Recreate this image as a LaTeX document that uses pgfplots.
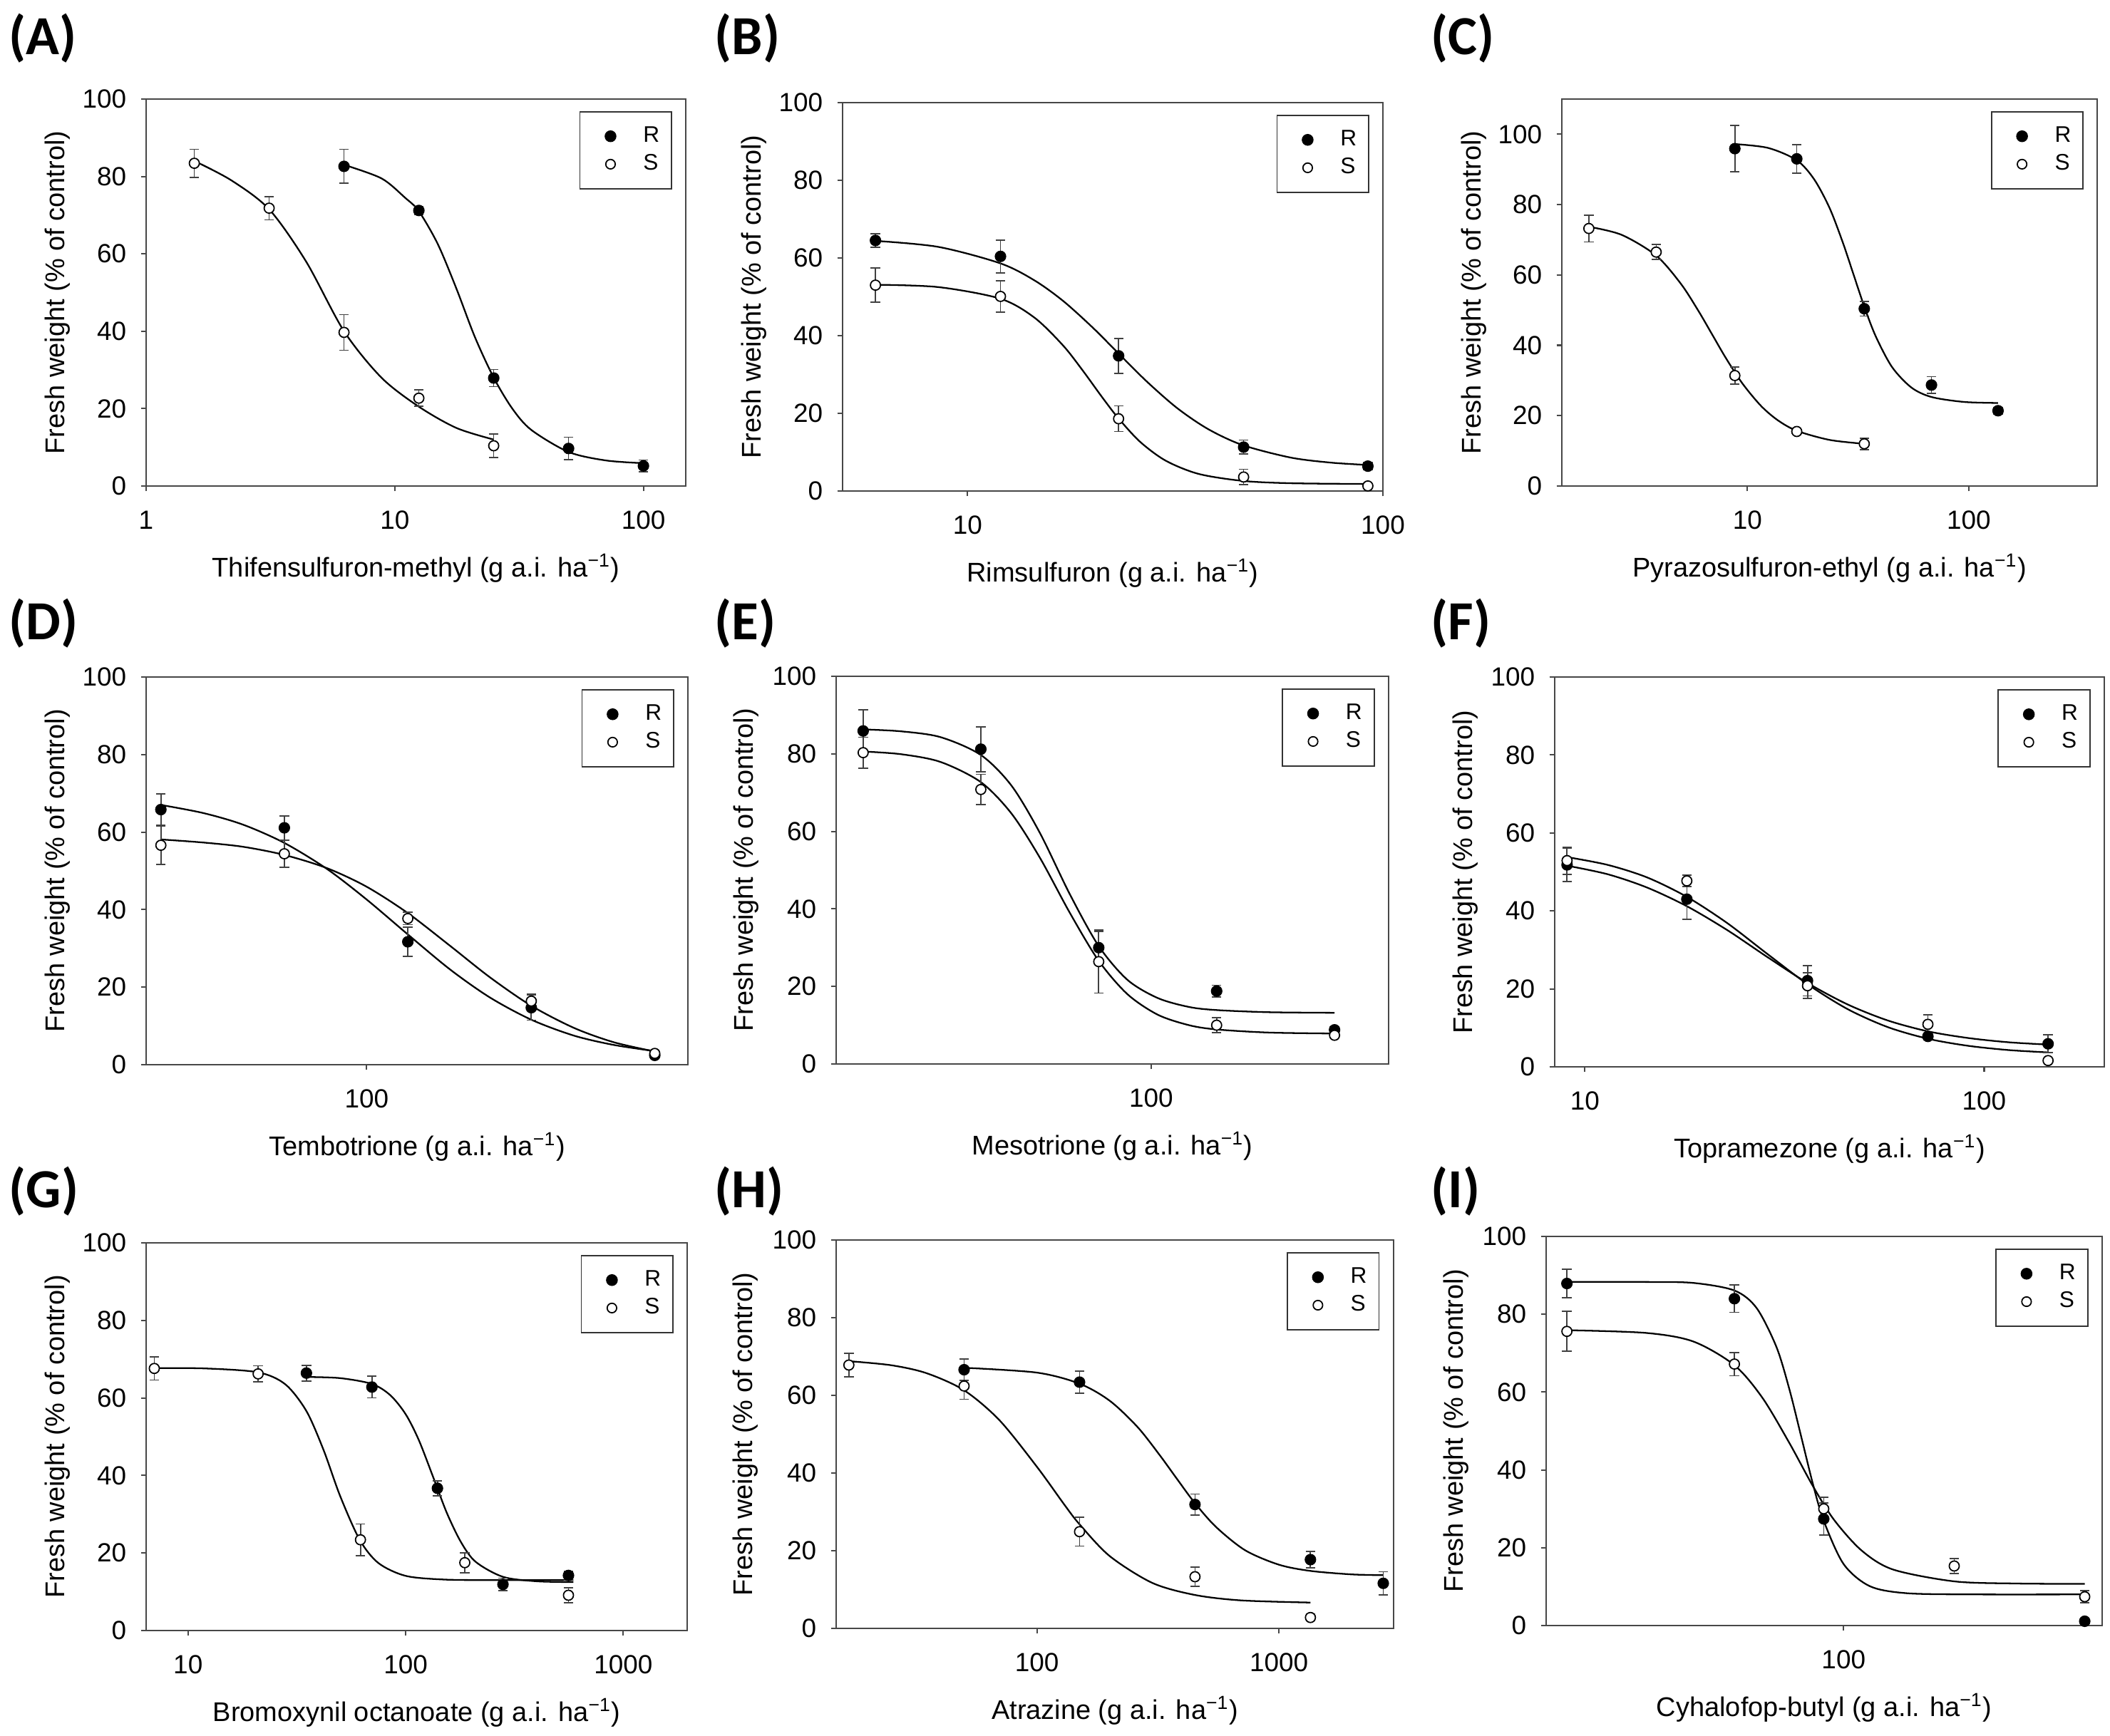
\documentclass[border=0pt]{standalone}
\usepackage{fontspec}
\setmainfont{Liberation Sans}
\newfontfamily\carlito{Carlito}
\usepackage{pgfplots}
\pgfplotsset{compat=1.18}

\pgfplotsset{
  every axis/.append style={
    anchor=south west, scale only axis, xmode=log,
    ymin=0, ytick={0,20,40,60,80,100},
    xminorticks=false, tick align=outside, tick pos=left,
    major tick length=0.075cm,
    axis line style={black!72, line width=0.6pt},
    tick style={black!72, line width=0.6pt},
    tick label style={font=\fontsize{10.5}{12}\selectfont},
    xticklabel style={yshift=-0.15cm},
    yticklabel style={xshift=-0.08cm},
    label style={font=\fontsize{10.8}{13}\selectfont},
    xlabel style={at={(axis description cs:0.5,0)}, anchor=north, yshift=-0.83cm},
    ylabel style={at={(axis description cs:-0.124,0.5)}, anchor=south},
    ylabel={Fresh weight (\% of control)},
    legend style={at={(rel axis cs:0.975,0.969)}, anchor=north east,
      draw=black!80, line width=0.5pt, inner xsep=0.12cm, inner ysep=0.15cm,
      nodes={inner ysep=0.06cm, inner xsep=0.05cm}, font=\fontsize{9}{10}\selectfont,
      /tikz/every odd column/.append style={column sep=0.1cm}},
    legend cell align=left,
  },
  /pgf/number format/assume math mode=true,
}

\begin{document}
\begin{tikzpicture}
\useasboundingbox (0cm,0cm) rectangle (29.6cm,24.36cm);

% (A)
\begin{axis}[at={(2.05cm,17.54cm)}, width=7.57cm, height=5.43cm, ymax=100,
  xmin=1, xmax=148, xtick={1,10,100}, xticklabels={1,10,100},
  xlabel={Thifensulfuron-methyl (g a.i. ha\textsuperscript{−1})}]
\addplot[black, line width=0.65pt, smooth, no marks, forget plot] coordinates {(6.25,83) (8.84,79.5) (11,74.5) (12.5,71) (14.9,62.5) (17.7,51) (21,38.5) (25,28) (29.7,20) (35.4,14.5) (50,8.8) (70.7,6.6) (100,5.9)};
\addplot[black, line width=0.65pt, smooth, no marks, forget plot] coordinates {(1.5625,84) (2.2,79) (3.125,71.5) (4.4,58) (6.25,40) (8.84,28) (12.5,20.5) (17.7,15) (25,12)};
\addplot[forget plot, only marks, mark=*, mark size=2.1pt, mark options={fill=black, draw=black}, error bars/.cd, y dir=both, y explicit, error bar style={black!75, line width=0.5pt}, error mark options={rotate=90, black!75, mark size=1.9pt, line width=0.5pt}] coordinates {(6.25,82.6) +- (0,4.4) (12.5,71.2) +- (0,1.1) (25,27.9) +- (0,2.2) (50,9.7) +- (0,2.9) (100,5.2) +- (0,1.5)};
\addplot[forget plot, only marks, mark=*, mark size=2.0pt, mark options={fill=white, draw=black, line width=0.5pt}, error bars/.cd, y dir=both, y explicit, error bar style={black!75, line width=0.5pt}, error mark options={rotate=90, black!75, mark size=1.9pt, line width=0.5pt}] coordinates {(1.5625,83.4) +- (0,3.6) (3.125,71.8) +- (0,3) (6.25,39.7) +- (0,4.6) (12.5,22.7) +- (0,2.1) (25,10.4) +- (0,3)};
\addlegendimage{white, mark=*, mark size=2.1pt, mark options={draw=black, fill=black}}
\addlegendentry{R}
\addlegendimage{white, mark=*, mark size=1.9pt, mark options={draw=black, fill=white, line width=0.5pt}}
\addlegendentry{S}
\end{axis}

% (B)
\begin{axis}[at={(11.82cm,17.47cm)}, width=7.58cm, height=5.45cm, ymax=100,
  xmin=5, xmax=100, xtick={10,100}, xticklabels={10,100},
  xlabel={Rimsulfuron (g a.i. ha\textsuperscript{−1})}]
\addplot[black, line width=0.65pt, smooth, no marks, forget plot] coordinates {(6,64.4) (8.5,62.85) (12,58.6) (14.5,54.2) (17,48.9) (20,42.1) (23,35.6) (27,28.2) (32,21.3) (38,15.9) (46,11.8) (60,8.6) (75,7.3) (92,6.7)};
\addplot[black, line width=0.65pt, smooth, no marks, forget plot] coordinates {(6,53.1) (8.5,52.5) (12,49.5) (14.5,44.6) (17,37.4) (19,30.8) (21,24.4) (23,18.9) (26,12.7) (30,7.8) (36,4.4) (46,2.6) (60,2.0) (92,1.8)};
\addplot[forget plot, only marks, mark=*, mark size=2.1pt, mark options={fill=black, draw=black}, error bars/.cd, y dir=both, y explicit, error bar style={black!75, line width=0.5pt}, error mark options={rotate=90, black!75, mark size=1.9pt, line width=0.5pt}] coordinates {(6,64.5) +- (0,1.7) (12,60.4) +- (0,4.2) (23.1,34.8) +- (0,4.5) (46.2,11.3) +- (0,1.8) (92,6.4) +- (0,0.9)};
\addplot[forget plot, only marks, mark=*, mark size=2.0pt, mark options={fill=white, draw=black, line width=0.5pt}, error bars/.cd, y dir=both, y explicit, error bar style={black!75, line width=0.5pt}, error mark options={rotate=90, black!75, mark size=1.9pt, line width=0.5pt}] coordinates {(6,53) +- (0,4.4) (12,50.1) +- (0,4) (23.1,18.6) +- (0,3.3) (46.2,3.6) +- (0,2) (92,1.3) +- (0,0.5)};
\addlegendimage{white, mark=*, mark size=2.1pt, mark options={draw=black, fill=black}}
\addlegendentry{R}
\addlegendimage{white, mark=*, mark size=1.9pt, mark options={draw=black, fill=white, line width=0.5pt}}
\addlegendentry{S}
\end{axis}

% (C)
\begin{axis}[at={(21.91cm,17.54cm)}, width=7.51cm, height=5.43cm,
  xmin=1.45, xmax=380, ymax=110, xtick={10,100}, xticklabels={10,100},
  xlabel={Pyrazosulfuron-ethyl (g a.i. ha\textsuperscript{−1})}]
\addplot[black, line width=0.65pt, smooth, no marks, forget plot] coordinates {(8.77,97.2) (12.4,96.1) (16.7,92.6) (20,87.2) (23.5,79) (27,69.1) (30,60.5) (33.7,51) (38,42.5) (45,33.8) (55,28) (67.8,25.3) (95,23.9) (135.5,23.6)};
\addplot[black, line width=0.65pt, smooth, no marks, forget plot] coordinates {(1.92,73.7) (2.7,71.4) (3.87,65.5) (5,57.5) (6,49.8) (6.9,43.25) (8,36.3) (9.5,29.1) (11.5,22.8) (13.7,18.7) (16.7,15.7) (23.5,13.1) (33.7,12)};
\addplot[forget plot, only marks, mark=*, mark size=2.1pt, mark options={fill=black, draw=black}, error bars/.cd, y dir=both, y explicit, error bar style={black!75, line width=0.5pt}, error mark options={rotate=90, black!75, mark size=1.9pt, line width=0.5pt}] coordinates {(8.77,95.9) +- (0,6.6) (16.7,93) +- (0,4.1) (33.7,50.4) +- (0,2.1) (67.8,28.7) +- (0,2.4) (135.5,21.4) +- (0,0.9)};
\addplot[forget plot, only marks, mark=*, mark size=2.0pt, mark options={fill=white, draw=black, line width=0.5pt}, error bars/.cd, y dir=both, y explicit, error bar style={black!75, line width=0.5pt}, error mark options={rotate=90, black!75, mark size=1.9pt, line width=0.5pt}] coordinates {(1.92,73.2) +- (0,3.8) (3.87,66.5) +- (0,2.1) (8.77,31.4) +- (0,2.4) (16.7,15.5) +- (0,0.7) (33.7,12) +- (0,1.6)};
\addlegendimage{white, mark=*, mark size=2.1pt, mark options={draw=black, fill=black}}
\addlegendentry{R}
\addlegendimage{white, mark=*, mark size=1.9pt, mark options={draw=black, fill=white, line width=0.5pt}}
\addlegendentry{S}
\end{axis}

% (D)
\begin{axis}[at={(2.05cm,9.42cm)}, width=7.60cm, height=5.44cm, ymax=100,
  xmin=29, xmax=607, xtick={100}, xticklabels={100},
  xlabel={Tembotrione (g a.i. ha\textsuperscript{−1})}]
\addplot[black, line width=0.65pt, smooth, no marks, forget plot] coordinates {(31.5,67) (40,64.9) (50,61.9) (63,57.2) (80,50.5) (100,42.6) (126,33.6) (160,24.5) (200,17.3) (252,11.6) (320,7.5) (400,5.1) (504,3.5)};
\addplot[black, line width=0.65pt, smooth, no marks, forget plot] coordinates {(31.5,58.1) (40,57.3) (50,56.2) (63,54.1) (80,50.7) (100,45.9) (126,39.1) (160,30.6) (200,22.5) (252,15.2) (320,9.5) (400,5.8) (504,3.4)};
\addplot[forget plot, only marks, mark=*, mark size=2.1pt, mark options={fill=black, draw=black}, error bars/.cd, y dir=both, y explicit, error bar style={black!75, line width=0.5pt}, error mark options={rotate=90, black!75, mark size=1.9pt, line width=0.5pt}] coordinates {(31.5,65.8) +- (0,4) (63,61.1) +- (0,3.1) (126,31.7) +- (0,3.8) (252,14.7) +- (0,3.2) (504,2.4) +- (0,0.5)};
\addplot[forget plot, only marks, mark=*, mark size=2.0pt, mark options={fill=white, draw=black, line width=0.5pt}, error bars/.cd, y dir=both, y explicit, error bar style={black!75, line width=0.5pt}, error mark options={rotate=90, black!75, mark size=1.9pt, line width=0.5pt}] coordinates {(31.5,56.6) +- (0,5) (63,54.4) +- (0,3.5) (126,37.7) +- (0,1.6) (252,16.4) +- (0,1.8) (504,2.9) +- (0,0.6)};
\addlegendimage{white, mark=*, mark size=2.1pt, mark options={draw=black, fill=black}}
\addlegendentry{R}
\addlegendimage{white, mark=*, mark size=1.9pt, mark options={draw=black, fill=white, line width=0.5pt}}
\addlegendentry{S}
\end{axis}

% (E)
\begin{axis}[at={(11.73cm,9.43cm)}, width=7.75cm, height=5.44cm, ymax=100,
  xmin=15.7, xmax=404, xtick={100}, xticklabels={100},
  xlabel={Mesotrione (g a.i. ha\textsuperscript{−1})}]
\addplot[black, line width=0.65pt, smooth, no marks, forget plot] coordinates {(18.4,86.3) (23,85.8) (29,84.3) (36.75,79.7) (44,71.8) (52,59.6) (62,43.8) (73.5,30.4) (87,21.7) (104,17) (125,14.7) (147,13.9) (200,13.35) (294,13.2)};
\addplot[black, line width=0.65pt, smooth, no marks, forget plot] coordinates {(18.4,80.6) (23,79.9) (29,77.9) (36.75,72.7) (44,64.6) (52,53.2) (62,39) (73.5,26.6) (87,18) (104,12.7) (125,10) (147,8.9) (200,8.1) (294,7.85)};
\addplot[forget plot, only marks, mark=*, mark size=2.1pt, mark options={fill=black, draw=black}, error bars/.cd, y dir=both, y explicit, error bar style={black!75, line width=0.5pt}, error mark options={rotate=90, black!75, mark size=1.9pt, line width=0.5pt}] coordinates {(18.4,85.9) +- (0,5.4) (36.75,81.2) +- (0,5.8) (73.5,30) +- (0,4.2) (147,18.8) +- (0,1.5) (294,8.8) +- (0,0.8)};
\addplot[forget plot, only marks, mark=*, mark size=2.0pt, mark options={fill=white, draw=black, line width=0.5pt}, error bars/.cd, y dir=both, y explicit, error bar style={black!75, line width=0.5pt}, error mark options={rotate=90, black!75, mark size=1.9pt, line width=0.5pt}] coordinates {(18.4,80.3) +- (0,4) (36.75,70.8) +- (0,3.9) (73.5,26.4) +- (0,8.1) (147,10) +- (0,1.9) (294,7.4) +- (0,0.6)};
\addlegendimage{white, mark=*, mark size=2.1pt, mark options={draw=black, fill=black}}
\addlegendentry{R}
\addlegendimage{white, mark=*, mark size=1.9pt, mark options={draw=black, fill=white, line width=0.5pt}}
\addlegendentry{S}
\end{axis}

% (F)
\begin{axis}[at={(21.81cm,9.39cm)}, width=7.71cm, height=5.47cm, ymax=100,
  xmin=8.4, xmax=200, xtick={10,100}, xticklabels={10,100},
  xlabel={Topramezone (g a.i. ha\textsuperscript{−1})}]
\addplot[black, line width=0.65pt, smooth, no marks, forget plot] coordinates {(9.02,51.6) (11.4,49.4) (14.3,46) (18,41.2) (22.7,35.1) (28.6,28.2) (36.1,21.5) (45.5,16) (57.3,11.9) (72.3,9.1) (91,7.4) (115,6.3) (144.6,5.7)};
\addplot[black, line width=0.65pt, smooth, no marks, forget plot] coordinates {(9.02,53.8) (11.4,51.8) (14.3,48.6) (18,43.6) (22.7,36.9) (28.6,29) (36.1,21.2) (45.5,14.8) (57.3,10.2) (72.3,7.2) (91,5.4) (115,4.3) (144.6,3.7)};
\addplot[forget plot, only marks, mark=*, mark size=2.1pt, mark options={fill=black, draw=black}, error bars/.cd, y dir=both, y explicit, error bar style={black!75, line width=0.5pt}, error mark options={rotate=90, black!75, mark size=1.9pt, line width=0.5pt}] coordinates {(9.02,51.8) +- (0,4.3) (18,43) +- (0,5.2) (36.1,22.1) +- (0,3.9) (72.3,7.8) +- (0,0.8) (144.6,5.9) +- (0,2.3)};
\addplot[forget plot, only marks, mark=*, mark size=2.0pt, mark options={fill=white, draw=black, line width=0.5pt}, error bars/.cd, y dir=both, y explicit, error bar style={black!75, line width=0.5pt}, error mark options={rotate=90, black!75, mark size=1.9pt, line width=0.5pt}] coordinates {(9.02,52.9) +- (0,3.5) (18,47.7) +- (0,1.5) (36.1,20.8) +- (0,3.3) (72.3,10.9) +- (0,2.4) (144.6,1.6) +- (0,0.5)};
\addlegendimage{white, mark=*, mark size=2.1pt, mark options={draw=black, fill=black}}
\addlegendentry{R}
\addlegendimage{white, mark=*, mark size=1.9pt, mark options={draw=black, fill=white, line width=0.5pt}}
\addlegendentry{S}
\end{axis}

% (G)
\begin{axis}[at={(2.05cm,1.48cm)}, width=7.59cm, height=5.44cm, ymax=100,
  xmin=6.42, xmax=1967, xtick={10,100,1000}, xticklabels={10,100,1000},
  xlabel={Bromoxynil octanoate (g a.i. ha\textsuperscript{−1})}]
\addplot[black, line width=0.65pt, smooth, no marks, forget plot] coordinates {(35,65.4) (50,65.1) (70,63.6) (85,60.7) (100,55.8) (115,49.1) (135,39) (155,30.2) (180,22.7) (210,17.7) (280,13.85) (400,12.7) (590,12.5)};
\addplot[black, line width=0.65pt, smooth, no marks, forget plot] coordinates {(7,67.7) (12,67.6) (21,66.6) (28,63.5) (35,56.6) (42,46.5) (50,34.7) (61.5,23.4) (75,17.4) (100,14.1) (150,13.15) (250,13) (590,13)};
\addplot[forget plot, only marks, mark=*, mark size=2.1pt, mark options={fill=black, draw=black}, error bars/.cd, y dir=both, y explicit, error bar style={black!75, line width=0.5pt}, error mark options={rotate=90, black!75, mark size=1.9pt, line width=0.5pt}] coordinates {(35,66.4) +- (0,2) (70,62.8) +- (0,2.8) (140,36.7) +- (0,1.9) (280,11.9) +- (0,1.6) (560,14.2) +- (0,1.1)};
\addplot[forget plot, only marks, mark=*, mark size=2.0pt, mark options={fill=white, draw=black, line width=0.5pt}, error bars/.cd, y dir=both, y explicit, error bar style={black!75, line width=0.5pt}, error mark options={rotate=90, black!75, mark size=1.9pt, line width=0.5pt}] coordinates {(7,67.6) +- (0,3) (21,66.2) +- (0,2.1) (62,23.4) +- (0,4.1) (187,17.5) +- (0,2.6) (560,9.1) +- (0,1.9)};
\addlegendimage{white, mark=*, mark size=2.1pt, mark options={draw=black, fill=black}}
\addlegendentry{R}
\addlegendimage{white, mark=*, mark size=1.9pt, mark options={draw=black, fill=white, line width=0.5pt}}
\addlegendentry{S}
\end{axis}

% (H)
\begin{axis}[at={(11.73cm,1.51cm)}, width=7.82cm, height=5.45cm, ymax=100,
  xmin=14.8, xmax=2979, xtick={100,1000}, xticklabels={100,1000},
  xlabel={Atrazine (g a.i. ha\textsuperscript{−1})}]
\addplot[black, line width=0.65pt, smooth, no marks, forget plot] coordinates {(50,67.1) (100,65.85) (150,63) (200,58.6) (260,51.9) (320,44.8) (380,38.4) (449,32.3) (550,26.1) (726,20.1) (1000,16.4) (1349,14.8) (2000,13.9) (2699,13.7)};
\addplot[black, line width=0.65pt, smooth, no marks, forget plot] coordinates {(16.7,68.8) (25,67.75) (35,65.7) (50,61.3) (70,53.6) (100,41.6) (130,31.8) (150,26.8) (200,18.6) (300,11.7) (450,8.6) (700,7.2) (1350,6.65)};
\addplot[forget plot, only marks, mark=*, mark size=2.1pt, mark options={fill=black, draw=black}, error bars/.cd, y dir=both, y explicit, error bar style={black!75, line width=0.5pt}, error mark options={rotate=90, black!75, mark size=1.9pt, line width=0.5pt}] coordinates {(50,66.6) +- (0,2.7) (150,63.4) +- (0,2.9) (450,31.9) +- (0,2.7) (1350,17.7) +- (0,2.1) (2700,11.6) +- (0,3)};
\addplot[forget plot, only marks, mark=*, mark size=2.0pt, mark options={fill=white, draw=black, line width=0.5pt}, error bars/.cd, y dir=both, y explicit, error bar style={black!75, line width=0.5pt}, error mark options={rotate=90, black!75, mark size=1.9pt, line width=0.5pt}] coordinates {(16.7,67.8) +- (0,3) (50,62.4) +- (0,3.4) (150,24.9) +- (0,3.7) (450,13.3) +- (0,2.5) (1350,2.8) +- (0,0.8)};
\addlegendimage{white, mark=*, mark size=2.1pt, mark options={draw=black, fill=black}}
\addlegendentry{R}
\addlegendimage{white, mark=*, mark size=1.9pt, mark options={draw=black, fill=white, line width=0.5pt}}
\addlegendentry{S}
\end{axis}

% (I)
\begin{axis}[at={(21.69cm,1.55cm)}, width=7.80cm, height=5.46cm, ymax=100,
  xmin=20.6, xmax=395, xtick={100}, xticklabels={100},
  xlabel={Cyhalofop-butyl (g a.i. ha\textsuperscript{−1})}]
\addplot[black, line width=0.65pt, smooth, no marks, forget plot] coordinates {(23,88.3) (35,88.3) (45,88.05) (56,86.1) (63,81.6) (70,71.6) (75,60.7) (80,48.15) (85,36.3) (90,26.9) (100,15.8) (115,10.1) (140,8.3) (200,8) (360,8)};
\addplot[black, line width=0.65pt, smooth, no marks, forget plot] coordinates {(23,75.9) (35,75.2) (45,73) (56,66.9) (65,58.5) (75,46.9) (85,35.8) (95,27.2) (110,19.3) (130,14.4) (180,11.35) (250,10.8) (360,10.7)};
\addplot[forget plot, only marks, mark=*, mark size=2.1pt, mark options={fill=black, draw=black}, error bars/.cd, y dir=both, y explicit, error bar style={black!75, line width=0.5pt}, error mark options={rotate=90, black!75, mark size=1.9pt, line width=0.5pt}] coordinates {(23,87.9) +- (0,3.7) (56,84) +- (0,3.5) (90,27.4) +- (0,4.1) (360,1.1) +- (0,0.5)};
\addplot[forget plot, only marks, mark=*, mark size=2.0pt, mark options={fill=white, draw=black, line width=0.5pt}, error bars/.cd, y dir=both, y explicit, error bar style={black!75, line width=0.5pt}, error mark options={rotate=90, black!75, mark size=1.9pt, line width=0.5pt}] coordinates {(23,75.6) +- (0,5.1) (56,67.2) +- (0,3) (90,30) +- (0,3) (180,15.3) +- (0,1.9) (360,7.4) +- (0,1.6)};
\addlegendimage{white, mark=*, mark size=2.1pt, mark options={draw=black, fill=black}}
\addlegendentry{R}
\addlegendimage{white, mark=*, mark size=1.9pt, mark options={draw=black, fill=white, line width=0.5pt}}
\addlegendentry{S}
\end{axis}

\begin{scope}[every node/.style={anchor=west, inner sep=0pt, font=\carlito\bfseries\fontsize{22}{26}\selectfont}]
\node at (0.12cm,23.82cm) {(A)};
\node at (10.02cm,23.82cm) {(B)};
\node at (20.07cm,23.82cm) {(C)};
\node at (0.12cm,15.61cm) {(D)};
\node at (10.02cm,15.61cm) {(E)};
\node at (20.07cm,15.61cm) {(F)};
\node at (0.12cm,7.64cm) {(G)};
\node at (10.02cm,7.64cm) {(H)};
\node at (20.07cm,7.64cm) {(I)};
\end{scope}
\end{tikzpicture}
\end{document}
